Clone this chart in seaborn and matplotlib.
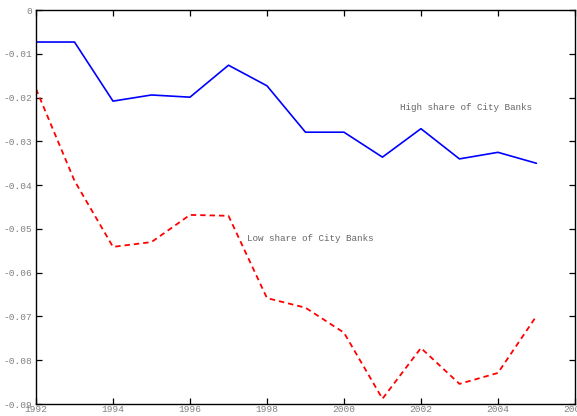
import pandas as pd
import matplotlib.pyplot as plt
import seaborn as sns
from matplotlib.ticker import FuncFormatter

years = list(range(1992, 2006))
high_share = [-0.0073, -0.0073, -0.0208, -0.0194, -0.0199, -0.0126, -0.0173,
              -0.0279, -0.0279, -0.0336, -0.0271, -0.0340, -0.0325, -0.0350]
low_share = [-0.0180, -0.0390, -0.0541, -0.0530, -0.0468, -0.0470, -0.0658,
             -0.0680, -0.0737, -0.0888, -0.0772, -0.0854, -0.0829, -0.0699]
xticks = [1992, 1994, 1996, 1998, 2000, 2002, 2004, 2006]
yticks = [0, -0.01, -0.02, -0.03, -0.04, -0.05, -0.06, -0.07, -0.08, -0.09]

df = pd.DataFrame({'year': years, 'high': high_share, 'low': low_share})

sns.set_style('ticks')
plt.rcParams['font.family'] = ['Liberation Mono', 'DejaVu Sans Mono']
plt.rcParams['axes.unicode_minus'] = False

fig = plt.figure(figsize=(5.77, 4.16), dpi=100)
ax = fig.add_axes([0.0624, 0.0288, 0.934, 0.947])

sns.lineplot(data=df, x='year', y='high', color='blue', linewidth=1.2, ax=ax)
sns.lineplot(data=df, x='year', y='low', color='red', linewidth=1.3, ax=ax)
ax.lines[1].set_dashes((3, 2.2))

# labels next to the lines
ax.text(2001.45, -0.0222, 'High share of City Banks', fontsize=6.7, color='#666666', va='center')
ax.text(1997.47, -0.0522, 'Low share of City Banks', fontsize=6.7, color='#666666', va='center')

ax.set_xlim(1992, 2006)
ax.set_ylim(-0.09, 0)
ax.set_xticks(xticks)
ax.set_yticks(yticks)
ax.yaxis.set_major_formatter(FuncFormatter(lambda v, p: '0' if abs(v) < 1e-9 else f'{v:.2f}'))
ax.set_xlabel('')
ax.set_ylabel('')
ax.tick_params(direction='in', length=4, width=0.9, top=True, right=True,
               labelsize=6.8, labelcolor='#808080', color='black')
ax.tick_params(axis='x', pad=1)
ax.tick_params(axis='y', pad=3)
for s in ax.spines.values():
    s.set_visible(True)
    s.set_linewidth(1.0)
    s.set_color('black')

fig.savefig('out.png', dpi=100)
